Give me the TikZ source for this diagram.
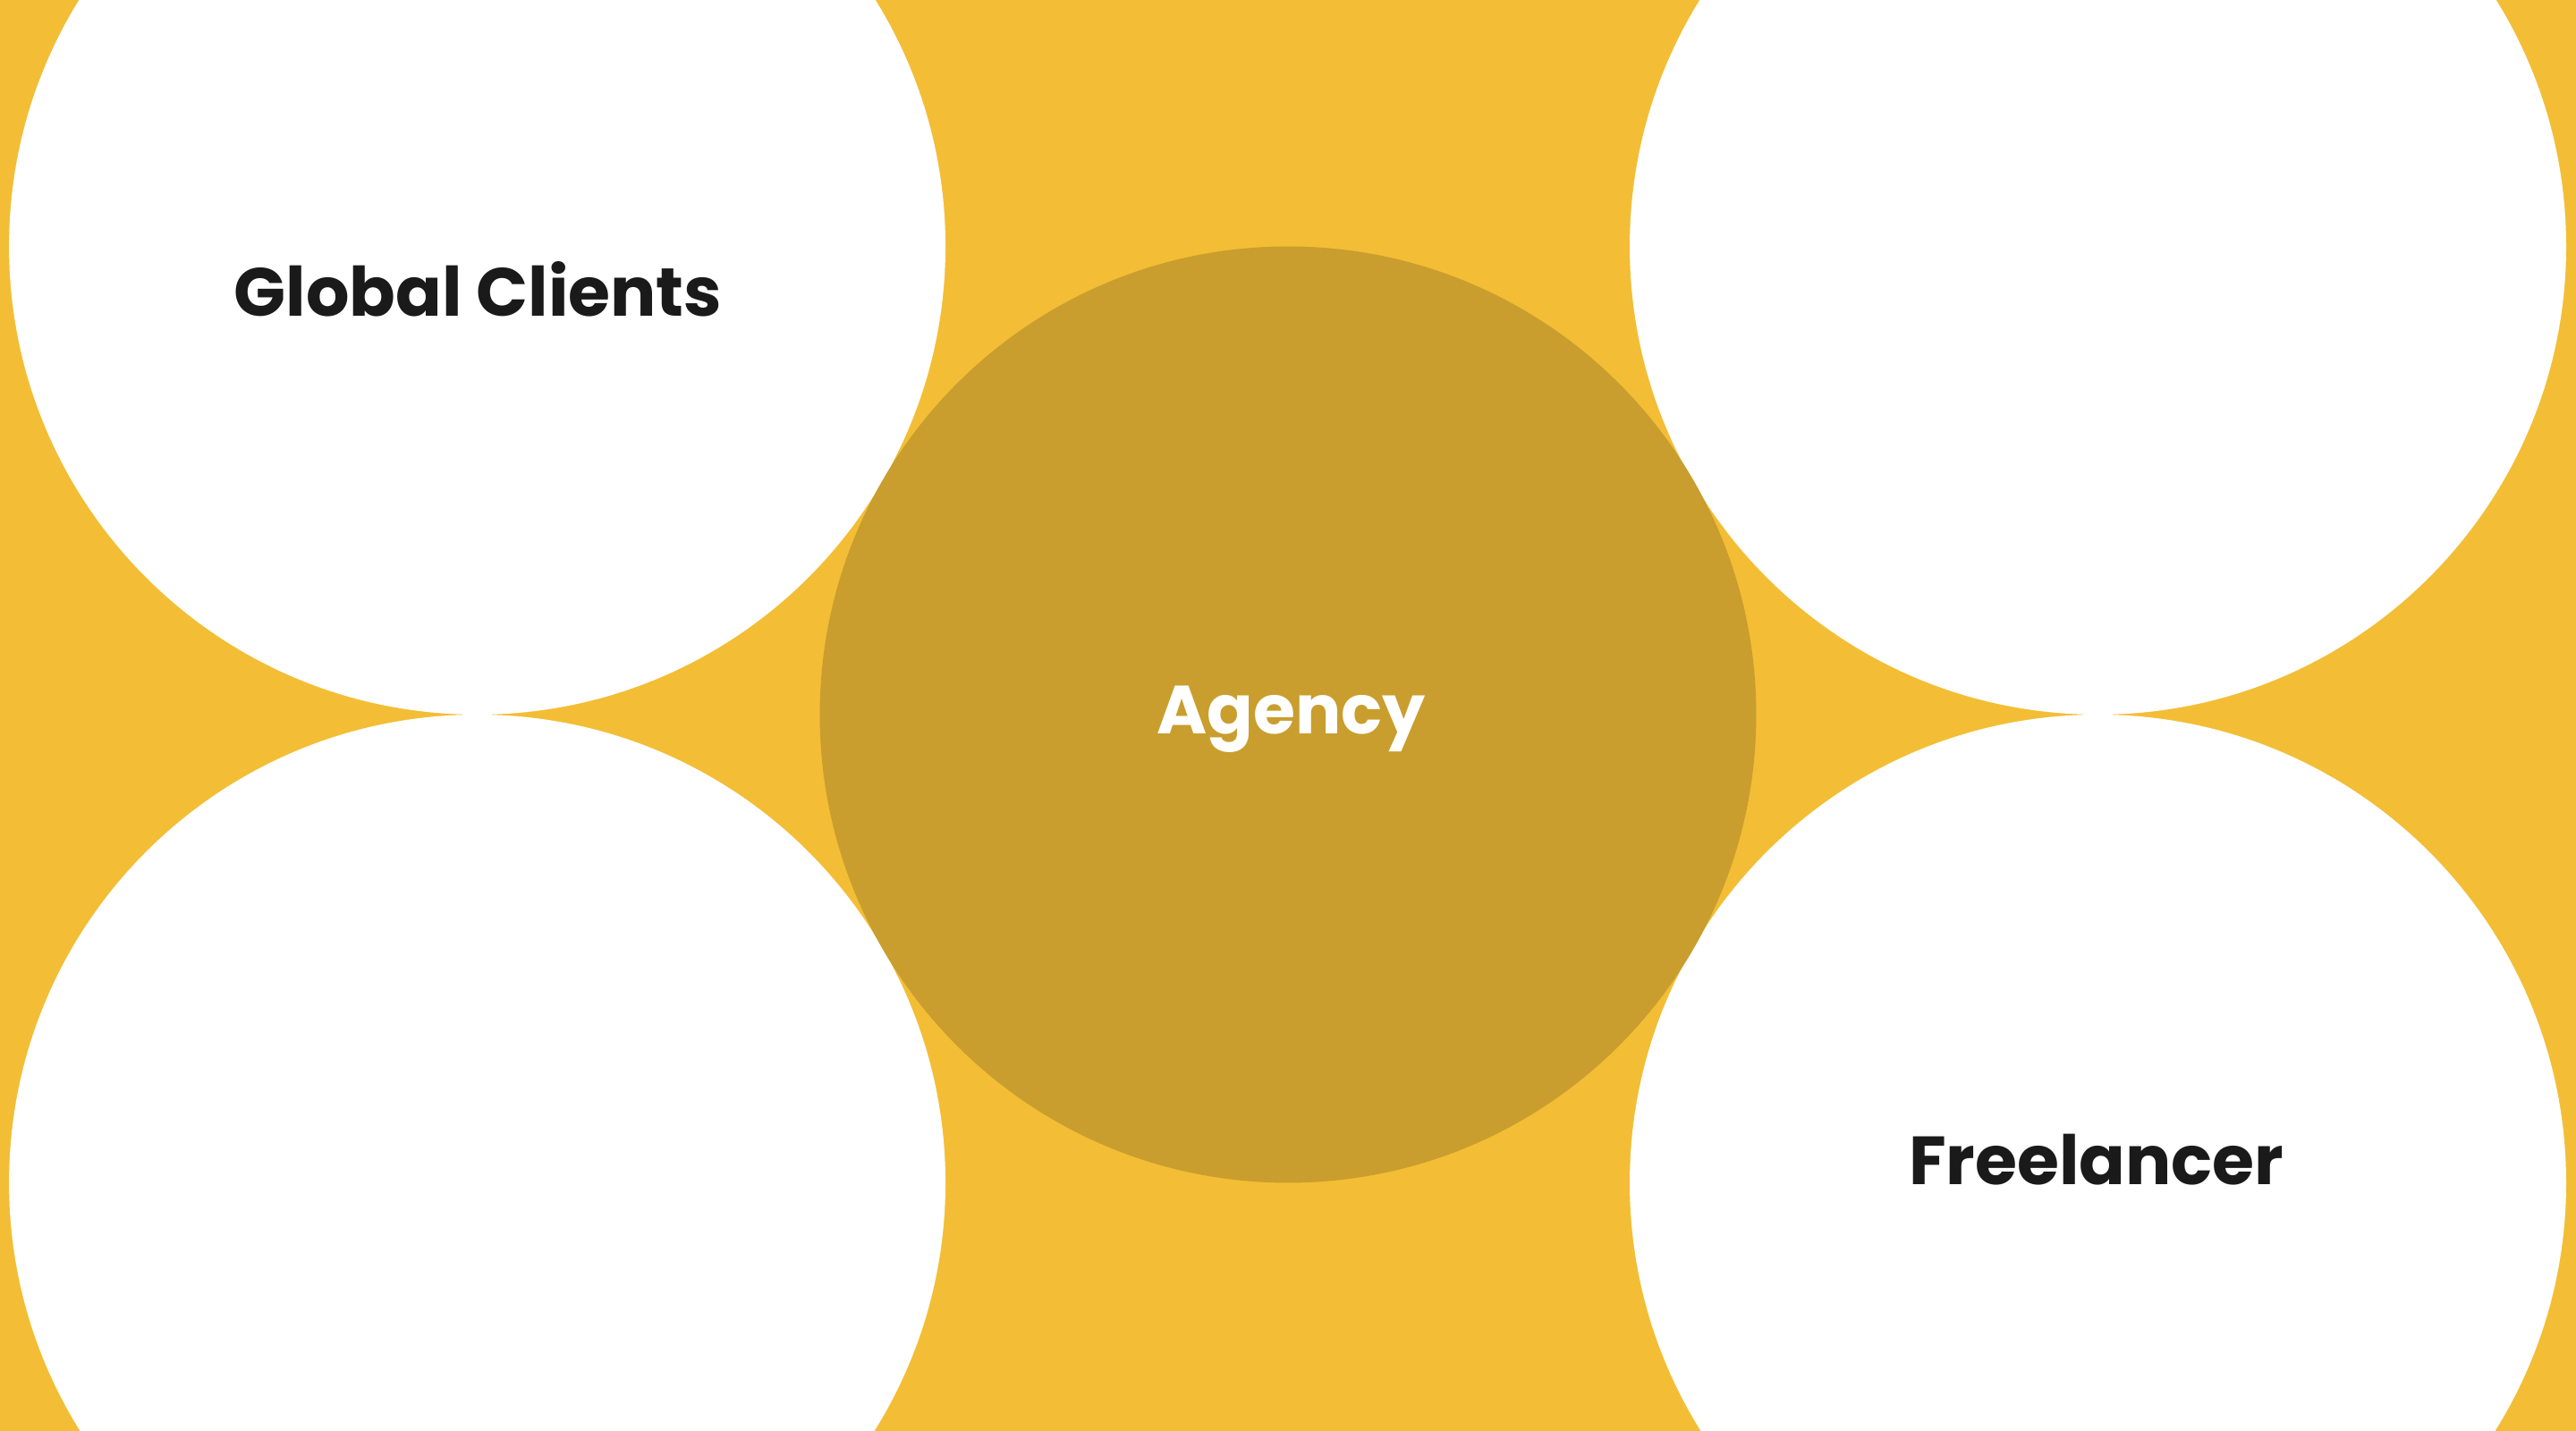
\documentclass[tikz,border=0pt]{standalone}
\usepackage{fontspec}
\setmainfont{Poppins}
\definecolor{bgY}{HTML}{F3BE35}
\definecolor{midY}{HTML}{C99E2E}
\definecolor{txt}{HTML}{1A1A1A}
\begin{document}
\begin{tikzpicture}[x=1mm,y=-1mm,
  wc/.style={circle,fill=white,minimum size=570mm,inner sep=0pt},
  lbl/.style={font=\fontsize{118}{120}\selectfont\bfseries,text=txt}]
\fill[bgY] (0,0) rectangle (1568,871);
\useasboundingbox (0,0) rectangle (1568,871);
\clip (0,0) rectangle (1568,871);
\node[wc] (tl) at (290.5,150) {};
\node[wc] (bl) at (290.5,720) {};
\node[wc] (tr) at (1277,150) {};
\node[wc] (br) at (1277,720) {};
\node[circle,fill=midY,minimum size=570mm,inner sep=0pt] (ag) at (784,435) {};
\node[lbl] (tgc) at (291,176) {Global Clients};
\node[lbl,text=white] (tag) at (786,438) {Agency};
\node[lbl] (tfr) at (1276,706) {Freelancer};
\end{tikzpicture}
\end{document}
